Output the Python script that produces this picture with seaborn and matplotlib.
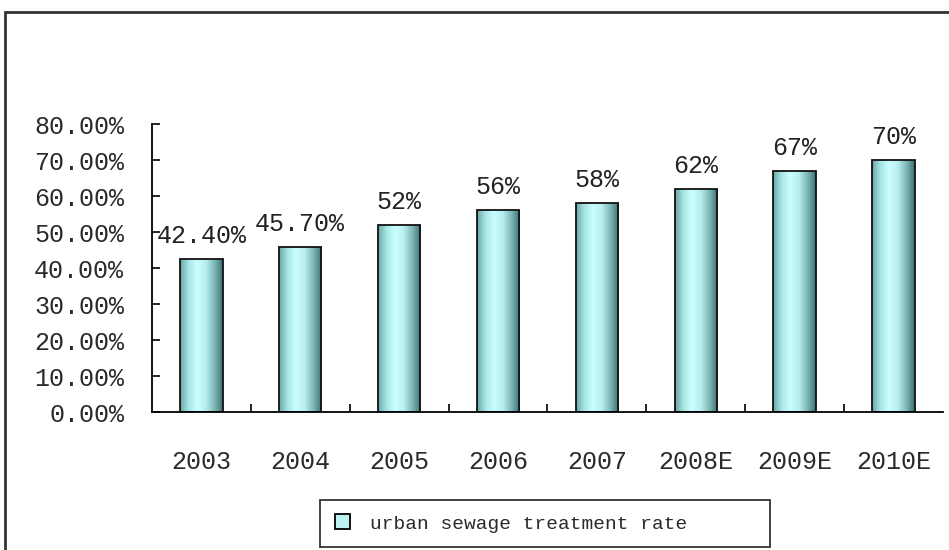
import numpy as np
import matplotlib
matplotlib.use("Agg")
import matplotlib.pyplot as plt
import seaborn as sns
from matplotlib.colors import LinearSegmentedColormap
from matplotlib.patches import Rectangle, Patch
from matplotlib.ticker import FixedLocator, PercentFormatter

years = ["2003", "2004", "2005", "2006", "2007", "2008E", "2009E", "2010E"]
rates = [0.424, 0.457, 0.52, 0.56, 0.58, 0.62, 0.67, 0.70]
bar_labels = ["42.40%", "45.70%", "52%", "56%", "58%", "62%", "67%", "70%"]
series_name = "urban sewage treatment rate"

sns.set_style("white")
plt.rcParams["font.family"] = ["Liberation Mono", "DejaVu Sans Mono"]

fig = plt.figure(figsize=(9.49, 5.50), dpi=100)
ax = fig.add_axes([0.160, 0.2509, 0.8337, 0.5236])

sns.barplot(x=years, y=rates, color="#bff0f0", width=0.43,
            edgecolor="#111111", linewidth=1.3, ax=ax)

# horizontal gradient inside each bar
grad = LinearSegmentedColormap.from_list(
    "bar", ["#6aa5a5", "#a8e6e6", "#ccffff", "#b8eeee", "#7fb8b8", "#3d6f6f"])
g = np.linspace(0, 1, 256).reshape(1, -1)
for p in ax.patches:
    x0, y0 = p.get_x(), p.get_y()
    w, h = p.get_width(), p.get_height()
    im = ax.imshow(g, cmap=grad, aspect="auto", extent=[x0, x0 + w, y0, y0 + h],
                   zorder=p.get_zorder() - 0.1, interpolation="bilinear")
    im.set_clip_path(p)
    p.set_facecolor("none")

for i, (v, lab) in enumerate(zip(rates, bar_labels)):
    ax.annotate(lab, (i, v), xytext=(0, 8), textcoords="offset points",
                ha="center", va="bottom", fontsize=18, color="#222222")

ax.set_xlim(-0.5, len(years) - 0.5)
ax.set_ylim(0, 0.8)
ax.set_yticks(np.arange(0, 0.81, 0.1))
ax.yaxis.set_major_formatter(PercentFormatter(1.0, decimals=2))
ax.xaxis.set_minor_locator(FixedLocator(np.arange(0.5, len(years) - 0.5, 1)))

for s in ["top", "right"]:
    ax.spines[s].set_visible(False)
for s in ["left", "bottom"]:
    ax.spines[s].set_color("black")
    ax.spines[s].set_linewidth(1.3)

ax.tick_params(axis="y", direction="in", length=6, width=1.2, color="black",
               labelsize=18, pad=20, labelcolor="#2a2a2a", left=True)
ax.tick_params(axis="x", which="major", length=0, labelsize=18, pad=27,
               labelcolor="#2a2a2a")
ax.tick_params(axis="x", which="minor", direction="in", length=6, width=1.2,
               color="black", bottom=True)
ax.set_xlabel("")
ax.set_ylabel("")
ax.grid(False)

# outer chart-area border
fig.patches.append(Rectangle((5 / 949, -0.05), 1.1, 1 - 12 / 550 + 0.05,
                             transform=fig.transFigure, fill=False,
                             edgecolor="#333333", linewidth=2))

handle = Patch(facecolor="#bff0f0", edgecolor="black", linewidth=1.3)
leg = fig.legend([handle], [series_name], loc="center",
                 bbox_to_anchor=(320 / 949, 1 - 547 / 550, 450 / 949, 47 / 550),
                 mode="expand", borderaxespad=0, fancybox=False, frameon=True,
                 prop={"size": 14}, handlelength=0.8, handleheight=0.8,
                 handletextpad=1.0, borderpad=0.75)
leg.get_frame().set_edgecolor("black")
leg.get_frame().set_linewidth(1.3)
for t in leg.get_texts():
    t.set_color("#2a2a2a")

fig.savefig("out.png", dpi=100)
